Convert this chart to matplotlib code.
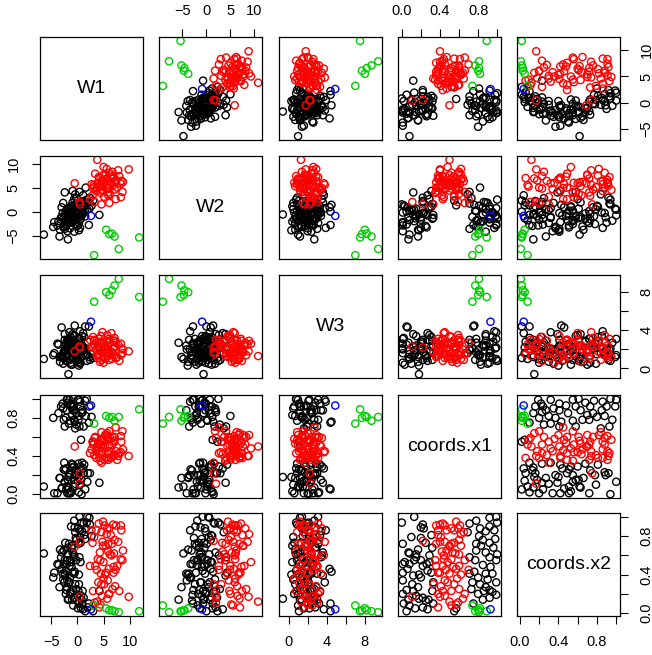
import matplotlib
matplotlib.use("Agg")
import matplotlib.pyplot as plt

plt.rcParams['font.family'] = ['Liberation Sans', 'DejaVu Sans']

# names on the diagonal
names = ['W1', 'W2', 'W3', 'coords.x1', 'coords.x2']

# cluster 1 (black)
k_x1 = [0.00, 0.13, 0.20, 0.22, 0.23, 0.01, 0.07, 0.15, 0.17, 0.15, 0.13, 0.03, 0.01, 0.08, 0.20, 0.22,
        0.26, 0.29, 0.32, 0.27, 0.31, 0.01, 0.01, 0.12, 0.11, 0.05, 0.01, 0.15, 0.07, 0.02, 0.08, 0.18,
        0.22, 0.25, 0.28, 0.33, 0.33, 0.32, 0.05, 0.20, 0.25, 0.31, 0.20, 0.17, 0.10, 0.22, 0.14, 0.27,
        0.55, 0.57, 0.71, 0.78, 0.92, 0.99, 1.00, 0.92, 0.88, 0.81, 0.85, 0.92, 0.96, 0.78, 0.88, 0.92,
        0.99, 0.77, 0.85, 0.93, 0.71, 0.76, 0.80, 0.74, 0.82, 0.88, 0.92, 0.86, 0.95, 0.99, 0.92, 0.80,
        0.85, 0.99, 0.98, 0.69, 0.83, 0.73, 0.95, 0.88, 0.78, 0.71, 1.00, 0.82, 0.08, 0.12,
        0.06, 0.18, 0.29, 0.90, 0.75, 0.97]
k_x2 = [0.94, 1.00, 0.89, 0.92, 0.88, 0.72, 0.63, 0.61, 0.66, 0.58, 0.55, 0.53, 0.51, 0.51, 0.55, 0.49,
        0.51, 0.53, 0.68, 0.44, 0.42, 0.42, 0.34, 0.39, 0.30, 0.24, 0.20, 0.18, 0.14, 0.10, 0.08, 0.15,
        0.16, 0.13, 0.14, 0.10, 0.32, 0.23, 0.02, 0.78, 0.73, 0.81, 0.37, 0.27, 0.79, 0.06, 0.05, 0.04,
        0.02, 0.05, 0.93, 0.96, 0.99, 1.00, 0.94, 0.90, 0.85, 0.80, 0.76, 0.73, 0.68, 0.65, 0.63, 0.58,
        0.55, 0.55, 0.50, 0.48, 0.41, 0.43, 0.37, 0.32, 0.30, 0.27, 0.24, 0.23, 0.22, 0.19, 0.16, 0.20,
        0.14, 0.32, 0.77, 0.84, 0.70, 0.25, 0.41, 0.41, 0.72, 0.58, 0.61, 0.88, 0.62, 0.23,
        0.46, 0.40, 0.60, 0.35, 0.10, 0.86]
k_w1 = [0.8, 1.9, -0.5, 2.4, 0.2, -1.6, -2.9, -1.8, -3.3, -0.7, -2.4, -1.2, -3.8, -2.0, -0.2, -1.5,
        -2.6, 0.6, -1.1, -2.2, -0.9, -4.4, -1.9, -2.4, -0.4, -2.1, -1.3, 0.7, -1.8, 0.3, -0.8, -1.7,
        1.2, -0.1, -1.0, 0.9, -2.5, 0.2, 1.5, -0.3, -2.3, 1.3, -1.4, -3.4, 0.5, 2.0, 0.1, 1.1,
        3.0, 0.7, 1.2, -0.6, 2.3, 0.4, 1.8, -1.2, 0.9, 2.7, -0.2, 0.6, -1.8, -2.6, -0.9, -3.1,
        -2.0, -1.4, -3.6, -1.1, -2.4, -0.5, -4.6, -1.6, 0.3, -2.0, -0.8, 1.0, -1.3, 0.1, -0.7, -2.2,
        0.8, -1.5, 1.5, -0.4, -1.0, -0.2, -2.8, -0.6, 0.2, 0.4, -1.9, 1.6, -6.4, 4.2,
        -3.0, 0.3, -0.6, -2.7, 2.2, 0.5]
k_w2 = [1.5, 0.4, -1.2, 2.9, -0.3, -2.4, -1.1, 0.6, -3.8, -0.9, -2.0, 1.1, -2.9, 0.2, -1.7, -0.4,
        -3.3, 0.9, -1.5, -0.8, 4.3, -2.2, -4.1, 4.0, 0.3, -2.7, -0.2, -1.0, -5.8, 1.3, -1.8, -0.6,
        2.2, -3.0, 0.8, -0.7, -1.3, 1.6, 0.0, -2.6, -0.5, 1.0, -3.5, -5.2, 0.5, 1.9, -1.4, 3.4,
        2.3, 1.3, 1.7, -1.9, 0.6, -0.8, 2.5, -2.3, -0.2, 1.2, 0.9, -1.6, -0.4, -3.1, 1.9, -1.2,
        -2.6, 0.2, -2.0, -0.9, -3.6, 1.4, -3.2, -1.1, -2.4, 0.5, -1.5, 2.0, -0.1, -2.9, 1.1, -1.7,
        -0.6, 0.7, -1.0, 3.6, -2.1, 2.8, -0.3, -4.2, 0.1, 4.1, -1.4, 5.0, -4.8, -0.7,
        0.9, -3.9, 2.6, 1.8, -2.8, -3.4]
k_w3 = [2.1, 1.4, 2.8, 0.9, 1.7, 3.1, 1.2, 2.4, 0.7, 3.4, 1.9, 0.4, 2.6, 1.5, 2.2, 3.0,
        1.1, 1.8, 2.9, 0.8, 2.3, 1.6, 2.0, 3.6, 1.3, 2.5, 0.6, 1.9, 2.7, 3.2, 1.0, -0.6,
        2.1, 1.4, 3.0, 2.4, 1.7, 0.9, 4.4, 2.6, 1.3, 3.3, 2.0, 1.2, 0.5, 2.8, 1.6, 3.7,
        1.1, 2.2, 1.9, 2.7, 1.2, 3.1, 0.8, 2.0, 3.4, 1.5, 2.4, 0.6, 2.8, 1.7, 3.6, 1.3,
        2.2, 0.9, 2.5, 1.8, 3.0, 4.5, 1.4, 2.1, 0.7, 2.9, 1.6, 2.3, 3.3, 1.0, 2.6, 1.9,
        1.2, 3.8, 2.1, 1.6, 0.4, 2.7, 1.1, 2.4, 3.1, 2.0, 0.8, 1.4, 1.0, 2.3,
        4.3, 0.3, 3.5, 0.5, 4.4, 3.9]

# cluster 2 (red)
r_x1 = [0.36, 0.40, 0.43, 0.45, 0.38, 0.52, 0.61, 0.59, 0.65, 0.22, 0.38, 0.41, 0.36, 0.40, 0.45, 0.52,
        0.55, 0.60, 0.62, 0.47, 0.53, 0.60, 0.52, 0.48, 0.36, 0.43, 0.38, 0.40, 0.50, 0.57, 0.60, 0.45,
        0.41, 0.48, 0.55, 0.60, 0.52, 0.40, 0.45, 0.50, 0.57, 0.59, 0.38, 0.52, 0.11, 0.43, 0.62, 0.44,
        0.50, 0.56, 0.35, 0.62, 0.66, 0.47, 0.57, 0.70, 0.33, 0.38, 0.64, 0.46, 0.54, 0.58, 0.42, 0.50,
        0.55, 0.66, 0.44]
r_x2 = [0.91, 0.92, 0.93, 0.91, 0.86, 0.88, 0.91, 0.88, 0.84, 0.75, 0.81, 0.79, 0.72, 0.74, 0.74, 0.72,
        0.73, 0.76, 0.70, 0.65, 0.63, 0.61, 0.56, 0.53, 0.49, 0.49, 0.42, 0.42, 0.41, 0.46, 0.49, 0.34,
        0.28, 0.32, 0.30, 0.25, 0.23, 0.17, 0.18, 0.12, 0.09, 0.11, 0.06, 0.08, 0.17, 0.23, 0.82, 0.60,
        0.70, 0.62, 0.55, 0.40, 0.55, 0.86, 0.95, 0.45, 0.30, 0.20, 0.15, 0.45, 0.48, 0.36, 0.64, 0.69,
        0.86, 0.20, 0.56]
r_w1 = [5.2, 6.8, 4.1, 7.4, 3.6, 6.1, 8.3, 5.7, 4.6, 0.5, 6.4, 3.2, 5.9, 7.8, 4.8, 6.6,
        2.9, 7.1, 5.4, 8.7, 4.3, 6.2, 3.9, 5.0, 7.6, 2.4, 5.5, 6.9, 4.5, 6.0, 3.4, 5.8,
        7.2, 4.0, 5.1, 6.7, 3.0, 9.8, 4.7, 3.8, 4.4, 3.3, 4.2, 3.1, 0.4, 8.0, 5.6, 6.5,
        4.9, 7.0, 4.4, 5.3, 8.6, 2.7, 4.9, 7.3, 4.6, 6.0, 5.7, 3.7, 6.9, 5.0, 5.9, -0.5,
        8.4, 6.1, 8.3]
r_w2 = [6.1, 5.4, 7.2, 6.6, 4.3, 8.1, 5.8, 4.9, 6.3, 1.5, 7.5, 5.1, 4.0, 8.6, 5.6, 6.9,
        3.3, 4.6, 7.7, 6.2, 5.3, 3.7, 6.0, 9.3, 5.0, 2.6, 6.8, 7.1, 4.4, 5.7, 7.9, 4.7,
        6.4, 5.9, 3.1, 8.3, 4.8, 8.8, 6.5, 10.8, 5.2, 2.0, 7.0, 5.5, 2.0, 7.4, 8.9, 5.9,
        7.6, 6.1, 3.9, 6.7, 4.1, 5.7, 4.5, 2.6, 1.5, 5.0, 6.9, 4.9, 7.3, 6.0, 3.4, 5.9,
        6.4, 1.8, 3.0]
r_w3 = [2.4, 1.6, 3.1, 1.1, 2.0, 2.7, 1.4, 3.5, 0.9, 2.2, 1.8, 2.9, 1.3, 2.5, 3.8, 1.0,
        2.3, 3.2, 1.7, 2.0, 0.7, 2.8, 1.5, 2.6, 1.2, 3.0, 1.9, 2.1, 3.4, 0.9, 2.4, 1.6,
        2.9, 1.1, 2.2, 1.4, 3.3, 1.8, 2.6, 1.3, 2.0, 3.0, 1.5, 2.5, 2.3, 0.8, 2.9, 3.7,
        1.9, 2.3, 2.8, 1.0, 1.6, 2.2, 1.2, 2.7, 1.7, 3.1, 2.0, 1.4, 2.9, 0.6, 2.4, 1.8,
        2.1, 1.5, 2.6]

# cluster 3 (green)
g_x1 = [0.89, 0.81, 0.77, 0.81, 0.80, 0.82, 0.74]
g_x2 = [0.02, 0.01, 0.02, 0.03, 0.03, 0.05, 0.08]
g_w1 = [11.8, 7.9, 7.1, 6.6, 6.1, 5.5, 3.2]
g_w2 = [-5.4, -7.8, -5.2, -4.6, -4.7, -3.8, -9.1]
g_w3 = [7.5, 9.4, 8.7, 8.2, 7.7, 8.0, 7.0]

# cluster 4 (blue)
b_x1 = [0.93]
b_x2 = [0.04]
b_w1 = [2.6]
b_w2 = [-0.9]
b_w3 = [4.9]

groups = [
    ('black', [k_w1, k_w2, k_w3, k_x1, k_x2]),
    ('red', [r_w1, r_w2, r_w3, r_x1, r_x2]),
    ('#00CD00', [g_w1, g_w2, g_w3, g_x1, g_x2]),
    ('blue', [b_w1, b_w2, b_w3, b_x1, b_x2]),
]

tick_pos = [[-5, 0, 5, 10], [-5, 0, 5, 10], [0, 2, 4, 6, 8],
            [0, 0.2, 0.4, 0.6, 0.8, 1.0], [0, 0.2, 0.4, 0.6, 0.8, 1.0]]
tick_lab = [['\u22125', '0', '5', '10'], ['\u22125', '0', '5', '10'], ['0', '', '4', '', '8'],
            ['0.0', '', '0.4', '', '0.8', ''], ['0.0', '', '0.4', '', '0.8', '']]

# axis limits like R: data range plus 4% each side
lims = []
for v in range(5):
    vals = [x for col, data in groups for x in data[v]]
    lo, hi = min(vals), max(vals)
    d = 0.04 * (hi - lo)
    lims.append((lo - d, hi + d))

W, H = 652, 655
fig = plt.figure(figsize=(W / 100, H / 100), dpi=100)
lefts = [40, 159, 279, 398, 517]
tops = [37, 156, 275, 395, 513]
size = 103

for i in range(5):
    for j in range(5):
        ax = fig.add_axes([lefts[j] / W, 1 - (tops[i] + size) / H, size / W, size / H])
        for sp in ax.spines.values():
            sp.set_linewidth(0.9)
        ax.set_xlim(lims[j])
        ax.set_ylim(lims[i])
        ax.set_xticks(tick_pos[j])
        ax.set_xticklabels(tick_lab[j])
        ax.set_yticks(tick_pos[i])
        ax.set_yticklabels(tick_lab[i])
        ax.tick_params(direction='out', length=6, width=0.8, pad=8, labelsize=10.5,
                       bottom=(i == 4 and j % 2 == 0), labelbottom=(i == 4 and j % 2 == 0),
                       top=(i == 0 and j % 2 == 1), labeltop=(i == 0 and j % 2 == 1),
                       left=(j == 0 and i % 2 == 1), labelleft=(j == 0 and i % 2 == 1),
                       right=(j == 4 and i % 2 == 0), labelright=(j == 4 and i % 2 == 0))
        for t in ax.yaxis.get_major_ticks():
            for lab in (t.label1, t.label2):
                lab.set_rotation(90)
                lab.set_va('center')

        if i == j:
            ax.text(0.5, 0.5, names[i], transform=ax.transAxes,
                    ha='center', va='center', fontsize=14)
            continue

        for col, data in groups:
            ax.scatter(data[j], data[i], s=27, facecolors='none',
                       edgecolors=col, linewidths=1.0)

fig.savefig('out.png', dpi=100)
